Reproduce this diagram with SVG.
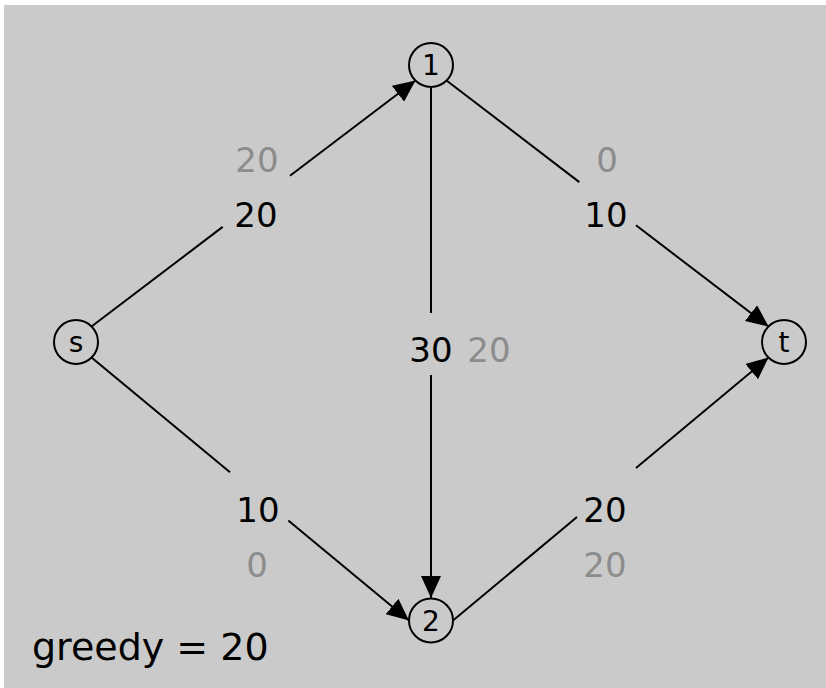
<svg xmlns="http://www.w3.org/2000/svg" width="826" height="688" viewBox="0 0 826 688">
<style>
.node circle{fill:none;stroke:#000;stroke-width:2}
.node text{font-family:"DejaVu Sans",sans-serif;font-size:28px;text-anchor:middle;fill:#000}
.edges line{stroke:#000;stroke-width:2;fill:none}
.lbl{font-family:"DejaVu Sans",sans-serif;font-size:34px;text-anchor:middle;fill:#000}
.cap{fill:#8c8c8c}
</style>
<defs>
<marker id="ah" markerUnits="userSpaceOnUse" markerWidth="23" markerHeight="20" refX="22" refY="10" orient="auto" viewBox="0 0 23 20">
<path d="M0,0 L22,10 L0,20 z" fill="#000"/>
</marker>
</defs>
<rect x="4" y="5" width="822" height="683" fill="#cacaca"/>
<g class="edges">
<line x1="91.5" y1="326.5" x2="222.7" y2="226.9"/>
<line x1="290" y1="175.8" x2="415.5" y2="80.5" marker-end="url(#ah)"/>
<line x1="446.5" y1="80.5" x2="579.3" y2="182.1"/>
<line x1="636" y1="225.3" x2="768.5" y2="326.5" marker-end="url(#ah)"/>
<line x1="431" y1="87.5" x2="431" y2="313"/>
<line x1="431" y1="375" x2="431" y2="598" marker-end="url(#ah)"/>
<line x1="91.5" y1="357.5" x2="230" y2="472.2"/>
<line x1="288.3" y1="520.5" x2="409" y2="620.5" marker-end="url(#ah)"/>
<line x1="453" y1="620.5" x2="577" y2="517.1"/>
<line x1="636" y1="467.9" x2="768.5" y2="357.5" marker-end="url(#ah)"/>
</g>
<g id="node-s" class="node"><circle cx="76" cy="342" r="22"/><text x="76" y="352">s</text></g>
<g id="node-1" class="node"><circle cx="431" cy="65" r="22"/><text x="431" y="75">1</text></g>
<g id="node-t" class="node"><circle cx="784" cy="342" r="22"/><text x="784" y="352">t</text></g>
<g id="node-2" class="node"><circle cx="431" cy="620.5" r="22"/><text x="431" y="630.5">2</text></g>
<g id="labels">
<text class="lbl cap" x="257" y="172">20</text>
<text class="lbl" x="256" y="227">20</text>
<text class="lbl cap" x="607" y="172">0</text>
<text class="lbl" x="606" y="227">10</text>
<text class="lbl" x="431" y="362">30</text>
<text class="lbl cap" x="489" y="362">20</text>
<text class="lbl" x="258" y="522">10</text>
<text class="lbl cap" x="257" y="577">0</text>
<text class="lbl" x="605" y="522">20</text>
<text class="lbl cap" x="605" y="577">20</text>
<text x="32" y="660" font-family="DejaVu Sans, sans-serif" font-size="38" fill="#000">greedy = 20</text>
</g>
</svg>
